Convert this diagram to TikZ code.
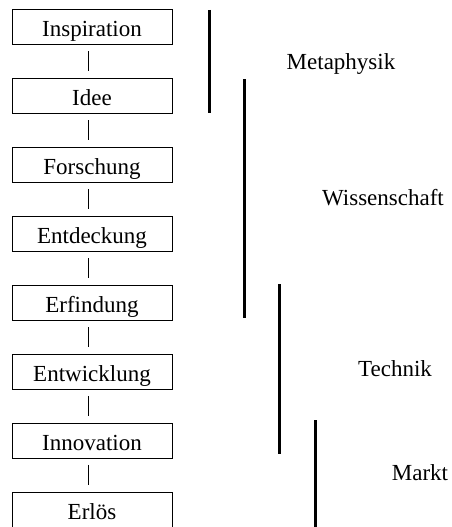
\documentclass[tikz,border=0pt]{standalone}
\usepackage{fontspec}
\setmainfont{Liberation Serif}
\begin{document}
\begin{tikzpicture}[x=1pt,y=-1pt,
  stage/.style={draw, line width=1pt, minimum width=160pt, minimum height=35pt,
    inner sep=0pt, text height=18.4pt, text depth=0pt,
    font=\fontsize{23pt}{27pt}\selectfont},
  link/.style={line width=0.8pt},
  phase/.style={line width=3pt, line cap=butt},
  phaselabel/.style={anchor=base, inner sep=0pt, font=\fontsize{23pt}{27pt}\selectfont}]
  \useasboundingbox (0,0) rectangle (452,527);

  % chain of stages
  \foreach \name/\txt [count=\i from 0] in {a/Inspiration, b/Idee, c/Forschung,
      d/Entdeckung, e/Erfindung, f/Entwicklung, g/Innovation, h/Erlös}
    \node[stage] (\name) at (92, 27.5+68.9*\i) {\txt};

  % short links between the stages
  \foreach \u/\v in {a/b, b/c, c/d, d/e, e/f, f/g, g/h}
    \draw[link] ([xshift=-4pt,yshift=-6pt]\u.south) -- ([xshift=-4pt,yshift=7pt]\v.north);

  % phase bars
  \coordinate (m1) at (209.5,10);  \coordinate (m2) at (209.5,113);
  \coordinate (w1) at (244,79);    \coordinate (w2) at (244,318);
  \coordinate (t1) at (279.5,284); \coordinate (t2) at (279.5,454);
  \coordinate (k1) at (315.5,420); \coordinate (k2) at (315.5,527);
  \draw[phase] (m1) -- (m2);
  \draw[phase] (w1) -- (w2);
  \draw[phase] (t1) -- (t2);
  \draw[phase] (k1) -- (k2);

  % phase names
  \node[phaselabel] (lm) at (341,70) {Metaphysik};
  \node[phaselabel] (lw) at (383,205) {Wissenschaft};
  \node[phaselabel] (lt) at (395,376.7) {Technik};
  \node[phaselabel] (lk) at (420,480) {Markt};
\end{tikzpicture}
\end{document}
